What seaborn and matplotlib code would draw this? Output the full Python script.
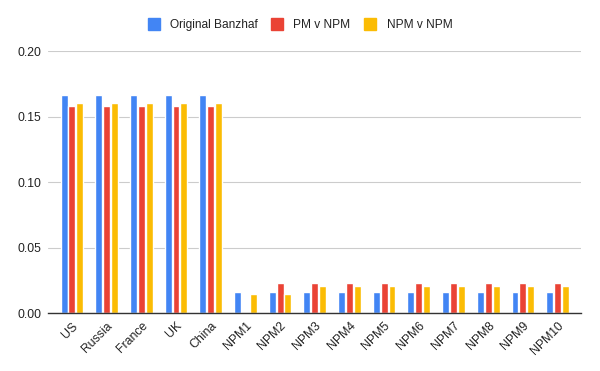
import matplotlib
matplotlib.use("Agg")
import matplotlib.pyplot as plt
import seaborn as sns
import pandas as pd
from matplotlib.lines import Line2D

categories = ["US", "Russia", "France", "UK", "China", "NPM1", "NPM2", "NPM3", "NPM4",
              "NPM5", "NPM6", "NPM7", "NPM8", "NPM9", "NPM10"]
original_banzhaf = [0.1667, 0.1667, 0.1667, 0.1667, 0.1667] + [0.0159] * 10
pm_v_npm = [0.158, 0.158, 0.158, 0.158, 0.158, 0.0] + [0.0227] * 9
npm_v_npm = [0.160, 0.160, 0.160, 0.160, 0.160, 0.0145, 0.0145] + [0.0206] * 8
series_names = ["Original Banzhaf", "PM v NPM", "NPM v NPM"]
colors = ["#4285F4", "#EA4335", "#FBBC04"]
yticks = [0.00, 0.05, 0.10, 0.15, 0.20]

rows = []
for name, vals in zip(series_names, [original_banzhaf, pm_v_npm, npm_v_npm]):
    for c, v in zip(categories, vals):
        rows.append({"cat": c, "series": name, "value": v})
df = pd.DataFrame(rows)

sns.set_theme(style="white")
plt.rcParams["font.family"] = ["Liberation Sans", "DejaVu Sans"]

fig = plt.figure(figsize=(6, 3.71), dpi=100)
ax = fig.add_axes([0.08, 0.1563, 0.888, 0.7062])

sns.barplot(data=df, x="cat", y="value", hue="series", order=categories,
            hue_order=series_names, palette=colors, width=0.68, gap=0.12,
            ax=ax, legend=False, saturation=1)

ax.set_ylim(0, 0.2)
ax.set_xlim(-0.69, 14.67)
ax.set_yticks(yticks)
ax.set_yticklabels([f"{t:.2f}" for t in yticks], fontsize=8.8, color="#222222")
ax.set_xticks(range(len(categories)))
ax.set_xticklabels(categories, rotation=45, ha="right", rotation_mode="anchor",
                   fontsize=8.8, color="#222222")
ax.tick_params(axis="both", length=0, pad=5)
ax.set_xlabel("")
ax.set_ylabel("")
ax.grid(axis="y", color="#cccccc", linewidth=0.8)
ax.set_axisbelow(True)
for s in ["top", "right", "left"]:
    ax.spines[s].set_visible(False)
ax.spines["bottom"].set_color("#333333")
ax.spines["bottom"].set_linewidth(1)

handles = [Line2D([0], [0], marker="s", linestyle="", markersize=8.6,
                  markerfacecolor=c, markeredgecolor=c) for c in colors]
fig.legend(handles, series_names, loc="center", bbox_to_anchor=(0.5, 0.933),
           ncol=3, frameon=False, fontsize=8.6, handlelength=1.0, handletextpad=0.84,
           columnspacing=1.17, labelcolor="#222222")

fig.savefig("out.png", dpi=100)
